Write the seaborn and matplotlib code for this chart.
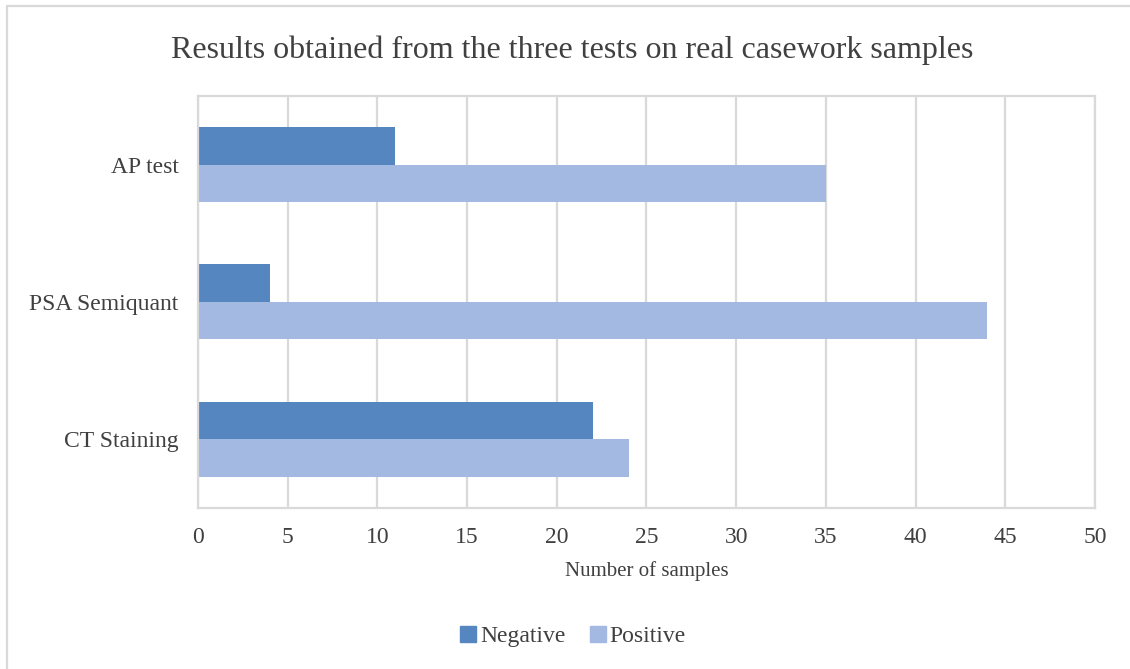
import matplotlib
matplotlib.use("Agg")
import matplotlib.pyplot as plt
from matplotlib.lines import Line2D
import seaborn as sns
import pandas as pd

# Results of the three presumptive tests on casework samples
tests = ["AP test", "PSA Semiquant", "CT Staining"]
negative = [11, 4, 22]
positive = [35, 44, 24]
outcomes = ["Negative", "Positive"]
colors = {"Negative": "#5686BF", "Positive": "#A3B9E1"}

df = pd.DataFrame({
    "Test": tests * 2,
    "Outcome": ["Negative"] * len(tests) + ["Positive"] * len(tests),
    "Samples": negative + positive,
})

sns.set_theme(style="white")
plt.rcParams["font.family"] = ["Liberation Serif", "DejaVu Serif"]
text_col = "#404040"
grid_col = "#D9D9D9"

fig = plt.figure(figsize=(11.3, 6.69), dpi=100)
ax = fig.add_axes([0.1752, 0.2407, 0.9690 - 0.1752, 0.8565 - 0.2407])

sns.barplot(data=df, y="Test", x="Samples", hue="Outcome", hue_order=outcomes,
            order=tests, palette=colors, orient="h", width=0.546,
            saturation=1, errorbar=None, legend=False, linewidth=0, ax=ax)

ax.set_xlim(0, 50)
ax.set_ylim(2.5, -0.5)
ax.set_xticks(range(0, 51, 5))
ax.set_axisbelow(True)
ax.xaxis.grid(True, color=grid_col, linewidth=1.6)
ax.yaxis.grid(False)
for s in ax.spines.values():
    s.set_color(grid_col)
    s.set_linewidth(1.6)
ax.tick_params(axis="x", length=0, pad=14, labelsize=17, labelcolor=text_col)
ax.tick_params(axis="y", length=0, pad=14, labelsize=17, labelcolor=text_col)
ax.set_ylabel("")
ax.set_xlabel("Number of samples", fontsize=15, color=text_col, labelpad=9)

fig.suptitle("Results obtained from the three tests on real casework samples",
             x=0.506, y=0.947, fontsize=23, color=text_col)

handles = [Line2D([], [], marker="s", linestyle="none", markersize=12,
                  markerfacecolor=colors[o], markeredgecolor=colors[o])
           for o in outcomes]
fig.legend(handles, outcomes, loc="center", bbox_to_anchor=(0.507, 0.049),
           ncol=2, frameon=False, fontsize=17, handlelength=0.7,
           handletextpad=0.15, columnspacing=1.0, labelcolor=text_col)

# light chart-area border along the left and top edges
fig.add_artist(Line2D([0.0066, 0.0066], [0, 0.991], transform=fig.transFigure,
                      color=grid_col, linewidth=1.6))
fig.add_artist(Line2D([0.0066, 1.0], [0.991, 0.991], transform=fig.transFigure,
                      color=grid_col, linewidth=1.6))

fig.savefig("out.png", dpi=100, facecolor="white")
